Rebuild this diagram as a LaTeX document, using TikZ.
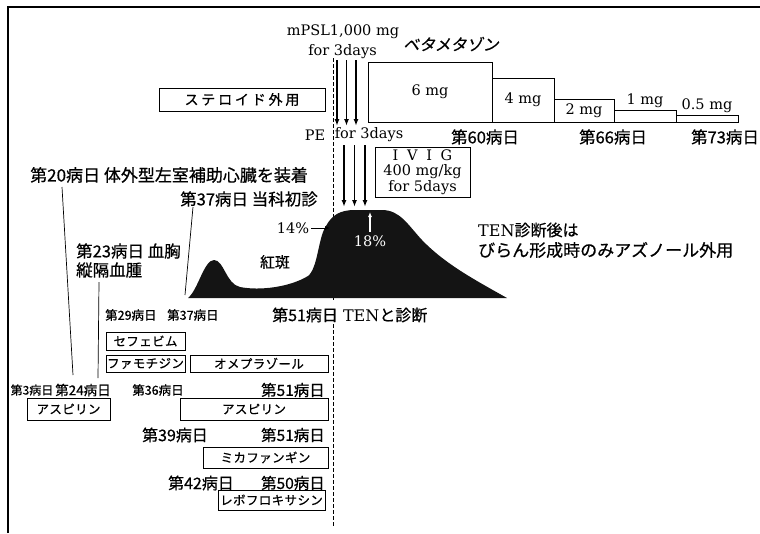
\documentclass[tikz,border=0pt]{standalone}
\usepackage{fontspec}
\setmainfont{DejaVu Serif}
\newfontfamily\jp[FakeBold=0.6]{Noto Sans CJK JP}
\newfontfamily\jpsl[FakeSlant=0.2,FakeBold=0.6]{Noto Sans CJK JP}
\usetikzlibrary{arrows.meta}
\begin{document}
\begin{tikzpicture}[x=1pt,y=-1pt,
  jpt/.style={inner sep=0pt, font=\jp\fontsize{#1}{#1}\selectfont},
  lat/.style={inner sep=0pt, font=\fontsize{14.5}{16}\selectfont},
  drug/.style={draw, line width=0.8pt, inner sep=0pt,
    font=\jp\fontsize{12.5}{12.5}\selectfont\addfontfeature{LetterSpace=3}},
  stepbox/.style={draw, line width=0.8pt, inner sep=0pt, font=\fontsize{14.5}{16}\selectfont},
  conn/.style={line width=0.7pt},
  darrow/.style={line width=1.6pt, -{Latex[length=7pt,width=5pt]}},
  ]
\useasboundingbox (0,0) rectangle (760,533);
% frame
\draw[line width=1.2pt] (8,533) -- (8,7) -- (760,7);

% dashed day-51 line
\coordinate (dtop) at (333,58);
\coordinate (dmid) at (333,300);
\coordinate (dlow) at (333,324);
\coordinate (dbot) at (333,526);
\draw[line width=0.8pt, dash pattern=on 4pt off 2pt] (dtop) -- (dmid);
\draw[line width=0.8pt, dash pattern=on 4pt off 2pt] (dlow) -- (dbot);

% top labels
\node[lat] (mpsl) at (343,32) {mPSL1,000 mg};
\node[lat] (for1) at (342.5,52) {for 3days};
\node[inner sep=0pt, font=\jpsl\fontsize{16}{16}\selectfont] (beta) at (451,44) {ベタメタゾン};

% mPSL arrows
\foreach \i/\x in {1/337,2/346.5,3/356}{
  \coordinate (ma\i) at (\x,60);
  \coordinate (mb\i) at (\x,126);
  \draw[darrow] (ma\i) -- (mb\i);
}
\node[lat] (pe) at (315,135) {PE};
\node[lat] (for2) at (369,135) {for 3days};
\foreach \i/\x in {1/344,2/354.5,3/365}{
  \coordinate (pa\i) at (\x,145);
  \coordinate (pb\i) at (\x,207);
  \draw[darrow] (pa\i) -- (pb\i);
}

% steroid box
\node[draw, line width=0.8pt, inner sep=0pt, minimum width=166pt, minimum height=23pt,
  font=\jp\fontsize{14}{14}\selectfont\addfontfeature{LetterSpace=20}] (ster) at (242,99.5) {ステロイド外用};

% betamethasone steps
\node[stepbox, minimum width=124pt, minimum height=60pt] (s6) at (430,92) {6 mg};
\node[stepbox, minimum width=62pt, minimum height=44pt] (s4) at (523,100) {4 mg};
\node[stepbox, minimum width=60pt, minimum height=23pt] (s2) at (584,110.5) {2 mg};
\node[stepbox, minimum width=62pt, minimum height=12pt] (s1) at (645,116) {};
\node[stepbox, minimum width=62pt, minimum height=7pt] (s05) at (707,118.5) {};
\node[lat] (l1) at (645,101) {1 mg};
\node[lat] (l05) at (707,106) {0.5 mg};
\node[jpt=16.5] (d60) at (485,137) {第60病日};
\node[jpt=16.5] (d66) at (613,137) {第66病日};
\node[jpt=16.5] (d73) at (725,137) {第73病日};

% IVIG box
\node[draw, line width=0.8pt, inner sep=0pt, minimum width=95pt, minimum height=50pt,
  align=center, font=\fontsize{14.5}{15.5}\selectfont] (ivig) at (422.5,172)
  {I\hspace{0.6em}V\hspace{0.6em}I\hspace{0.6em}G\\400 mg/kg\\for 5days};

% captions
\node[jpt=17, anchor=west] (c20) at (30,175) {第20病日 体外型左室補助心臓を装着};
\node[jpt=16.5, anchor=west] (c37) at (180,199) {第37病日 当科初診};
\node[jpt=16.5, anchor=west] (c23a) at (76,251) {第23病日 血胸};
\node[jpt=16.5, anchor=west] (c23b) at (76,270) {縦隔血腫};

% erythema curve
\fill[black!92] (188,298) .. controls (198,290) and (204,260) .. (214,260)
  .. controls (224,260) and (226,284) .. (240,287)
  .. controls (260,291) and (290,287) .. (308,276)
  .. controls (318,268) and (318,238) .. (326,226)
  .. controls (332,215) and (340,210) .. (355,210)
  -- (382,210)
  .. controls (400,210) and (408,225) .. (422,240)
  .. controls (445,264) and (475,280) .. (507,298) -- cycle;
\node[jpt=15] (koh) at (275,262) {紅斑};
\node[lat] (p14) at (293,228) {14\%};
\coordinate (a14) at (311,228);
\coordinate (b14) at (330,228);
\draw[line width=1pt, -{Latex[length=5pt,width=4pt]}] (a14) -- (b14);
\node[lat, text=white] (p18) at (370,241) {18\%};
\coordinate (a18) at (370,232);
\coordinate (b18) at (370,212);
\draw[white, line width=1.2pt, -{Latex[length=5pt,width=4pt]}] (a18) -- (b18);

% TEN note
\node[anchor=west, inner sep=0pt, font=\fontsize{16}{16}\selectfont] (ten1) at (478,230) {TEN{\jp 診断後は}};
\node[jpt=17, anchor=west] (ten2) at (478,250) {びらん形成時のみアズノール外用};

% day labels row
\node[jpt=12.5, anchor=west] (d29) at (105,315) {第29病日};
\node[jpt=12.5, anchor=west] (d37) at (167,315) {第37病日};
\node[anchor=west, inner sep=0pt, font=\fontsize{16}{16}\selectfont] (d51t) at (272,315) {{\jp 第51病日} TEN{\jp と診断}};

% connectors from captions
\coordinate (x20a) at (62,187);
\coordinate (x20b) at (73,375);
\draw[conn] (x20a) -- (x20b);
\coordinate (x23a) at (99,282);
\coordinate (x23b) at (98,378);
\draw[conn] (x23a) -- (x23b);
\coordinate (x37a) at (193,207);
\coordinate (x37b) at (185,295);
\draw[conn] (x37a) -- (x37b);

% drug boxes
\node[drug, minimum width=79pt, minimum height=18pt] (cefe) at (145.5,341) {セフェビム};
\node[drug, minimum width=79pt, minimum height=17pt] (famo) at (145.5,363.5) {ファモチジン};
\node[drug, minimum width=138pt, minimum height=17pt] (ome) at (259,363.5) {オメプラゾール};

\node[jpt=12] (d3) at (32,390) {第3病日};
\node[jpt=13.5] (d24) at (83,390) {第24病日};
\node[jpt=12.5] (d36) at (158,390) {第36病日};
\node[jpt=15.5, anchor=east] (d51a) at (325,390) {第51病日};

\node[drug, minimum width=83pt, minimum height=22pt] (asp1) at (68.5,409) {アスピリン};
\node[drug, minimum width=148pt, minimum height=22pt] (asp2) at (254,409) {アスピリン};

\node[jpt=16] (d39) at (175,435) {第39病日};
\node[jpt=15.5, anchor=east] (d51b) at (325,435) {第51病日};
\node[drug, minimum width=125pt, minimum height=21pt] (mica) at (265.5,457.5) {ミカファンギン};

\node[jpt=16] (d42) at (201,483) {第42病日};
\node[jpt=15.5, anchor=east] (d50) at (325,483) {第50病日};
\node[drug, minimum width=107pt, minimum height=20pt] (levo) at (271.5,500) {レボフロキサシン};
\end{tikzpicture}
\end{document}
